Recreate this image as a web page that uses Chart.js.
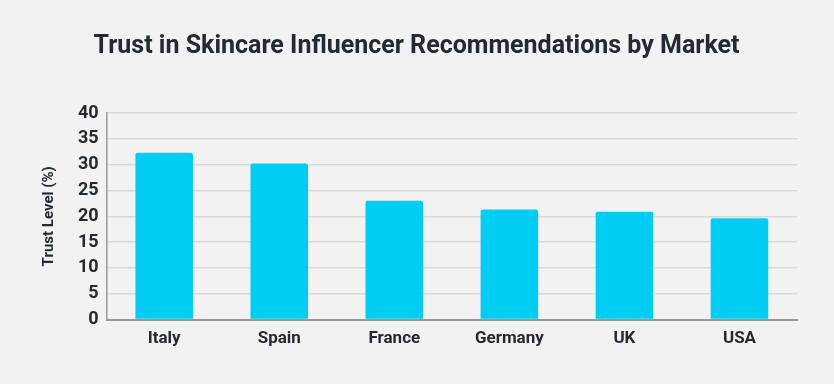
<!DOCTYPE html>
<html>
<head>
<meta charset="utf-8">
<script src="https://cdn.jsdelivr.net/npm/chart.js@4.4.0/dist/chart.umd.min.js"></script>
<style>
  html, body { margin: 0; padding: 0; background: #f2f2f2; }
  #wrap { width: 834px; height: 384px; position: relative; }
</style>
</head>
<body>
<div id="wrap"><canvas id="myChart" width="834" height="384"></canvas></div>
<script>
'use strict';
let markets = ['Italy', 'Spain', 'France', 'Germany', 'UK', 'USA'];
let trustValues = [32.3, 30.2, 23.0, 21.3, 20.9, 19.6];
let yTicks = [0, 5, 10, 15, 20, 25, 30, 35, 40];

let textColor = '#252a30';
let fontFamily = 'Roboto, "Noto Sans", sans-serif';

let chartEl = document.getElementById('myChart').getContext('2d');
let myChart = new Chart(chartEl, {
    type: 'bar',
    data: {
        labels: markets,
        datasets: [{
            label: 'Trust Level (%)',
            data: trustValues,
            backgroundColor: '#00cdf3',
            borderRadius: 2,
            borderSkipped: 'bottom',
            barPercentage: 0.5,
            categoryPercentage: 1
        }]
    },
    options: {
        responsive: false,
        animation: false,
        layout: { padding: { left: 36, right: 37, top: 32, bottom: 26 } },
        plugins: {
            legend: { display: false },
            tooltip: { enabled: false },
            title: {
                display: true,
                text: 'Trust in Skincare Influencer Recommendations by Market',
                color: textColor,
                font: { family: fontFamily, size: 25, weight: 'bold' },
                padding: { top: 0, bottom: 51 }
            }
        },
        scales: {
            x: {
                grid: { display: false, drawTicks: false },
                border: { color: '#999999', width: 2 },
                ticks: {
                    color: textColor,
                    padding: 9,
                    font: { family: fontFamily, size: 17, weight: 'bold' }
                }
            },
            y: {
                min: 0,
                max: 40,
                afterBuildTicks: function (axis) {
                    axis.ticks = yTicks.map(function (v) { return { value: v }; });
                },
                grid: { color: '#d9d9d9', lineWidth: 1.5, drawTicks: false },
                border: { color: '#999999', width: 1.5 },
                ticks: {
                    color: textColor,
                    padding: 8,
                    font: { family: fontFamily, size: 18, weight: 'bold' }
                },
                title: {
                    display: true,
                    text: 'Trust Level (%)',
                    color: textColor,
                    padding: { bottom: 12 },
                    font: { family: fontFamily, size: 15, weight: 'bold' }
                }
            }
        }
    }
});
</script>
</body>
</html>
